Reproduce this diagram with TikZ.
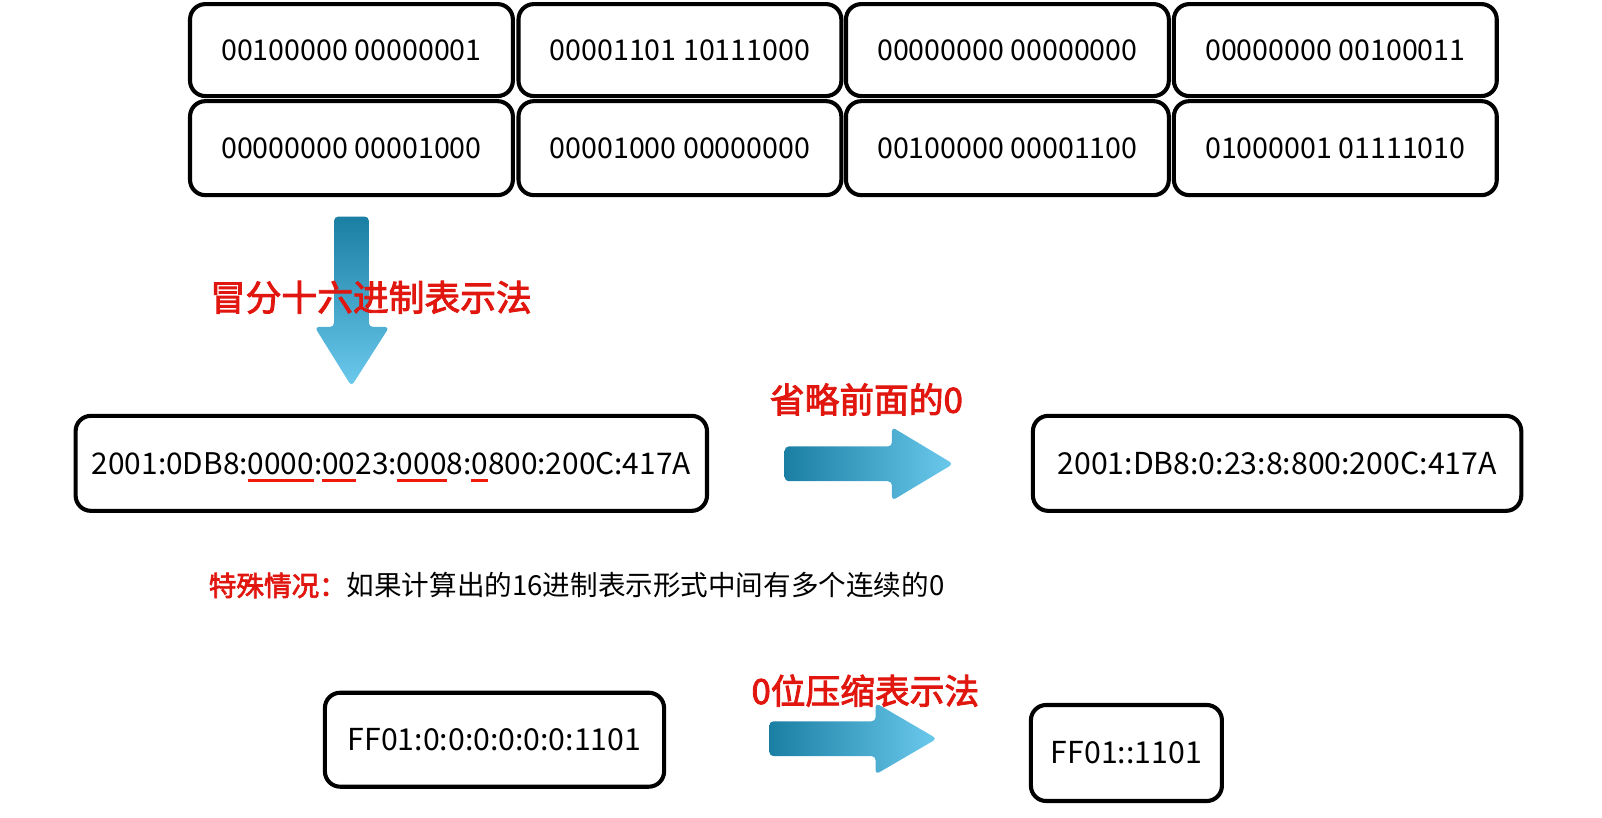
\documentclass[tikz,border=0pt]{standalone}
\usepackage{fontspec}
\setmainfont{Noto Sans CJK SC}
\newfontfamily\cjkbold[FakeBold=2.5]{Noto Sans CJK SC}
\newfontfamily\cjkheavy[FakeBold=2.5]{Noto Sans CJK SC}
\definecolor{arrowdark}{HTML}{1A7FA3}
\definecolor{arrowlight}{HTML}{6BC9EC}
\definecolor{labelred}{HTML}{E0160F}
\definecolor{ulred}{HTML}{F01A0A}
\newsavebox\ulsave
\newcommand\redul[1]{\sbox\ulsave{#1}\smash{\rlap{\textcolor{ulred}{\rule[-4pt]{\wd\ulsave}{1.6pt}}}}\usebox\ulsave}
\tikzset{
  bbox/.style={draw=black, line width=2pt, rounded corners=7.5pt, fill=white, align=center, inner sep=0pt},
  binbox/.style={bbox, minimum width=158pt, minimum height=45pt, font=\fontsize{14}{16}\selectfont},
  addrbox/.style={bbox, font=\fontsize{14.8}{17}\selectfont},
  redlabel/.style={text=labelred, font=\cjkbold\fontsize{17}{19}\selectfont, inner sep=0pt},
  bluearrow/.style={left color=arrowdark, right color=arrowlight, rounded corners=2pt},
}
\begin{document}
\begin{tikzpicture}[x=0.5pt,y=-0.5pt]
\useasboundingbox (0,0) rectangle (1568,800);
% top binary boxes
\node[binbox] (b11) at (344,49) {00100000 00000001};
\node[binbox] (b12) at (665.5,49) {00001101 10111000};
\node[binbox] (b13) at (986,49) {00000000 00000000};
\node[binbox] (b14) at (1307,49) {00000000 00100011};
\node[binbox, minimum height=46pt] (b21) at (344,145) {00000000 00001000};
\node[binbox, minimum height=46pt] (b22) at (665.5,145) {00001000 00000000};
\node[binbox, minimum height=46pt] (b23) at (986,145) {00100000 00001100};
\node[binbox, minimum height=46pt] (b24) at (1307,145) {01000001 01111010};
% down arrow
\shade[top color=arrowdark, bottom color=arrowlight, rounded corners=2pt]
  (327,212) -- (361,212) -- (361,320) -- (381,320) -- (344,378) -- (308,320) -- (327,320) -- cycle;
\node[redlabel, font=\cjkbold\fontsize{17.5}{19}\selectfont] (lab1) at (363,291) {冒分十六进制表示法};
% middle row
\node[addrbox, minimum width=309pt, minimum height=46.5pt, font=\fontsize{14.6}{17}\selectfont] (full) at (383,453.5)
  {2001:0DB8:\redul{0000}:\redul{00}23:\redul{000}8:\redul{0}800:200C:417A};
\shade[bluearrow] (768,437) -- (873,437) -- (873,418) -- (933,454) -- (873,490) -- (873,471) -- (768,471) -- cycle;
\node[redlabel] (lab2) at (848,391) {省略前面的0};
\node[addrbox, minimum width=239pt, minimum height=46.5pt] (short) at (1250,453.5)
  {2001:DB8:0:23:8:800:200C:417A};
% special case text
\node[anchor=west, inner sep=0pt, font=\fontsize{13.5}{16}\selectfont] (spec) at (204,573)
  {{\cjkheavy\color{labelred}特殊情况：}如果计算出的16进制表示形式中间有多个连续的0};
% bottom row
\node[addrbox, minimum width=166pt, minimum height=46pt] (zfull) at (484,724) {FF01:0:0:0:0:0:0:1101};
\shade[bluearrow] (753,706) -- (857,706) -- (857,688) -- (917,723) -- (857,758) -- (857,740) -- (753,740) -- cycle;
\node[redlabel] (lab3) at (847,676) {0位压缩表示法};
\node[addrbox, minimum width=93.5pt, minimum height=47pt] (zshort) at (1102.5,737) {FF01::1101};
\end{tikzpicture}
\end{document}
